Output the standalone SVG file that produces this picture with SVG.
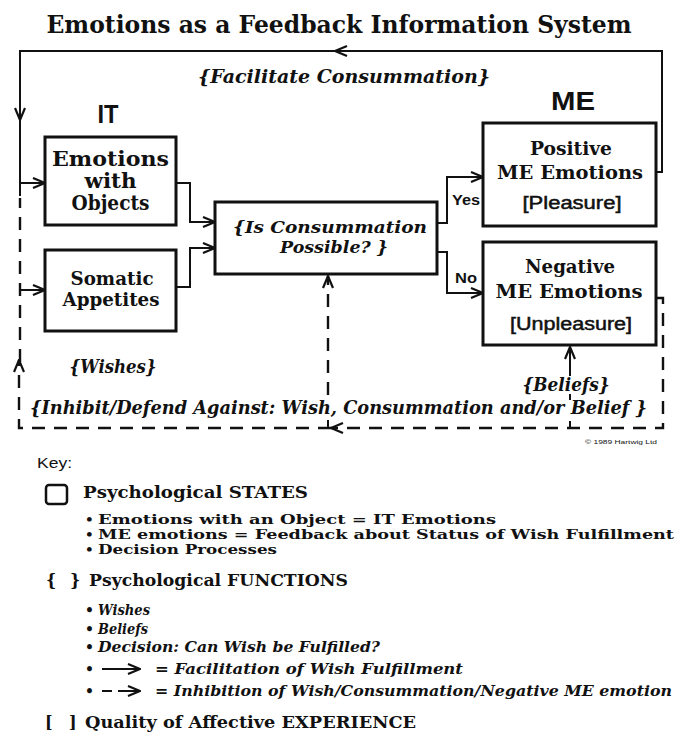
<svg xmlns="http://www.w3.org/2000/svg" width="686" height="735" viewBox="0 0 686 735">
<style>
.box{fill:#fff;stroke:#111;stroke-width:3}
.ln{fill:none;stroke:#111;stroke-width:2}
.dash{fill:none;stroke:#111;stroke-width:2.4;stroke-dasharray:13 9}
text{fill:#111}
.sb{font-family:"DejaVu Serif","Liberation Serif",serif;font-weight:bold}
.si{font-family:"DejaVu Serif","Liberation Serif",serif;font-weight:bold;font-style:italic}
.sa{font-family:"Liberation Sans",Arial,sans-serif;font-weight:bold}
.sr{font-family:"Liberation Sans",Arial,sans-serif}
.sm{font-family:"Liberation Sans",Arial,sans-serif;stroke:#111;stroke-width:0.5}
.c{text-anchor:middle}
</style>
<defs>
<marker id="ah" markerUnits="userSpaceOnUse" viewBox="0 0 14 12" refX="13" refY="6" markerWidth="14" markerHeight="12" orient="auto">
<path d="M1,1 L13,6 L1,11" fill="none" stroke="#111" stroke-width="2.2" stroke-dasharray="none"/>
</marker>
</defs>
<rect width="686" height="735" fill="#fff"/>
<text class="sb c" x="339" y="33" font-size="24" textLength="585" lengthAdjust="spacingAndGlyphs">Emotions as a Feedback Information System</text>

<g id="connectors">
<path class="ln" d="M656,172 H662 V51 H335" marker-end="url(#ah)"/>
<path class="ln" d="M336,51 H20 V120" marker-end="url(#ah)"/>
<path class="ln" d="M20,119 V196"/>
<path class="ln" d="M20,183 H45" marker-end="url(#ah)"/>
<path class="ln" d="M20,290 H45" marker-end="url(#ah)"/>
<path class="ln" d="M176,183 H190 V222 H215" marker-end="url(#ah)"/>
<path class="ln" d="M176,287 H190 V248 H215" marker-end="url(#ah)"/>
<path class="ln" d="M437,223 H447 V177 H483" marker-end="url(#ah)"/>
<path class="ln" d="M437,252 H447 V293 H483" marker-end="url(#ah)"/>
<path class="dash" d="M656,298 H663 V428 H331" marker-end="url(#ah)"/>
<path class="dash" d="M331,428 H19 V360" marker-end="url(#ah)"/>
<path class="dash" d="M20,362 V198"/>
<path class="ln" d="M328,428 V420"/>
<path class="dash" d="M328,395 V276" marker-end="url(#ah)"/>
<path class="ln" d="M570,428 V421"/>
<path class="ln" d="M570,400 V394"/>
<path class="ln" d="M570,376 V347" marker-end="url(#ah)"/>
</g>

<g id="labels">
<text class="si c" x="344" y="83" font-size="19" textLength="292" lengthAdjust="spacingAndGlyphs">{Facilitate Consummation}</text>
<text class="sa c" x="108" y="123" font-size="25" textLength="21" lengthAdjust="spacingAndGlyphs">IT</text>
<text class="sa c" x="573" y="110" font-size="25" textLength="44" lengthAdjust="spacingAndGlyphs">ME</text>
<text class="si c" x="113" y="373" font-size="19" textLength="87" lengthAdjust="spacingAndGlyphs">{Wishes}</text>
<text class="si c" x="566" y="391" font-size="18" textLength="87" lengthAdjust="spacingAndGlyphs">{Beliefs}</text>
<text class="si" x="30" y="414" font-size="18.5" textLength="617" lengthAdjust="spacingAndGlyphs">{Inhibit/Defend Against: Wish, Consummation and/or Belief }</text>
<text class="sa" x="452" y="205" font-size="14" textLength="28" lengthAdjust="spacingAndGlyphs">Yes</text>
<text class="sa" x="455" y="283" font-size="14" textLength="22" lengthAdjust="spacingAndGlyphs">No</text>
<text class="sr" x="585" y="444" font-size="5.5" textLength="72" lengthAdjust="spacingAndGlyphs">© 1989 Hartwig Ltd</text>
</g>

<g id="n-emotions">
<rect class="box" x="45" y="137" width="131" height="88"/>
<text class="sb c" x="110.5" y="166" font-size="20" textLength="117" lengthAdjust="spacingAndGlyphs">Emotions</text>
<text class="sb c" x="110.5" y="188" font-size="20" textLength="52" lengthAdjust="spacingAndGlyphs">with</text>
<text class="sb c" x="110.5" y="210" font-size="20" textLength="78" lengthAdjust="spacingAndGlyphs">Objects</text>
</g>
<g id="n-somatic">
<rect class="box" x="45" y="250" width="131" height="81"/>
<text class="sb c" x="112" y="285" font-size="19" textLength="83" lengthAdjust="spacingAndGlyphs">Somatic</text>
<text class="sb c" x="111" y="306" font-size="19" textLength="97" lengthAdjust="spacingAndGlyphs">Appetites</text>
</g>
<g id="n-decision">
<rect class="box" x="215" y="202" width="222" height="72"/>
<text class="si c" x="330" y="233" font-size="17" textLength="194" lengthAdjust="spacingAndGlyphs">{Is Consummation</text>
<text class="si c" x="334" y="253" font-size="17" textLength="108" lengthAdjust="spacingAndGlyphs">Possible? }</text>
</g>
<g id="n-positive">
<rect class="box" x="483" y="123" width="173" height="103"/>
<text class="sb c" x="571" y="155" font-size="19" textLength="82" lengthAdjust="spacingAndGlyphs">Positive</text>
<text class="sb c" x="570" y="179" font-size="19" textLength="146" lengthAdjust="spacingAndGlyphs">ME Emotions</text>
<text class="sm c" x="572" y="209" font-size="18" textLength="99" lengthAdjust="spacingAndGlyphs">[Pleasure]</text>
</g>
<g id="n-negative">
<rect class="box" x="483" y="242" width="173" height="103"/>
<text class="sb c" x="570" y="273" font-size="19" textLength="90" lengthAdjust="spacingAndGlyphs">Negative</text>
<text class="sb c" x="569" y="298" font-size="19" textLength="147" lengthAdjust="spacingAndGlyphs">ME Emotions</text>
<text class="sm c" x="571" y="330" font-size="18" textLength="122" lengthAdjust="spacingAndGlyphs">[Unpleasure]</text>
</g>

<g id="key">
<text class="sr" x="37" y="468" font-size="15" textLength="35" lengthAdjust="spacingAndGlyphs">Key:</text>
<rect x="46" y="485" width="21" height="19" rx="3" fill="none" stroke="#111" stroke-width="2.5"/>
<text class="sb" x="83" y="498" font-size="16" textLength="225" lengthAdjust="spacingAndGlyphs">Psychological STATES</text>
<text class="sb" x="85" y="524" font-size="13.5">•</text>
<text class="sb" x="98" y="524" font-size="13.5" textLength="398" lengthAdjust="spacingAndGlyphs">Emotions with an Object = IT Emotions</text>
<text class="sb" x="85" y="539" font-size="13.5">•</text>
<text class="sb" x="98" y="539" font-size="13.5" textLength="576" lengthAdjust="spacingAndGlyphs">ME emotions = Feedback about Status of Wish Fulfillment</text>
<text class="sb" x="85" y="554" font-size="13.5">•</text>
<text class="sb" x="98" y="554" font-size="13.5" textLength="179" lengthAdjust="spacingAndGlyphs">Decision Processes</text>

<text class="sb" x="46" y="586" font-size="16">{</text>
<text class="sb" x="70" y="586" font-size="16">}</text>
<text class="sb" x="89" y="586" font-size="16" textLength="259" lengthAdjust="spacingAndGlyphs">Psychological FUNCTIONS</text>
<text class="sb" x="85" y="615" font-size="14">•</text>
<text class="si" x="98" y="615" font-size="15" textLength="52" lengthAdjust="spacingAndGlyphs">Wishes</text>
<text class="sb" x="85" y="634" font-size="14">•</text>
<text class="si" x="98" y="634" font-size="15" textLength="50" lengthAdjust="spacingAndGlyphs">Beliefs</text>
<text class="sb" x="85" y="652" font-size="14">•</text>
<text class="si" x="98" y="652" font-size="15" textLength="282" lengthAdjust="spacingAndGlyphs">Decision: Can Wish be Fulfilled?</text>
<text class="sb" x="85" y="674" font-size="14">•</text>
<path class="ln" d="M102,669 H140" marker-end="url(#ah)"/>
<text class="si" x="155" y="674" font-size="15" textLength="308" lengthAdjust="spacingAndGlyphs">= Facilitation of Wish Fulfillment</text>
<text class="sb" x="85" y="696" font-size="14">•</text>
<path class="ln" d="M102,691 H112"/>
<path class="ln" d="M118,691 H140" marker-end="url(#ah)"/>
<text class="si" x="155" y="696" font-size="15" textLength="517" lengthAdjust="spacingAndGlyphs">= Inhibition of Wish/Consummation/Negative ME emotion</text>

<text class="sb" x="45" y="728" font-size="16">[</text>
<text class="sb" x="69" y="728" font-size="16">]</text>
<text class="sb" x="85" y="728" font-size="16" textLength="331" lengthAdjust="spacingAndGlyphs">Quality of Affective EXPERIENCE</text>
</g>
</svg>
